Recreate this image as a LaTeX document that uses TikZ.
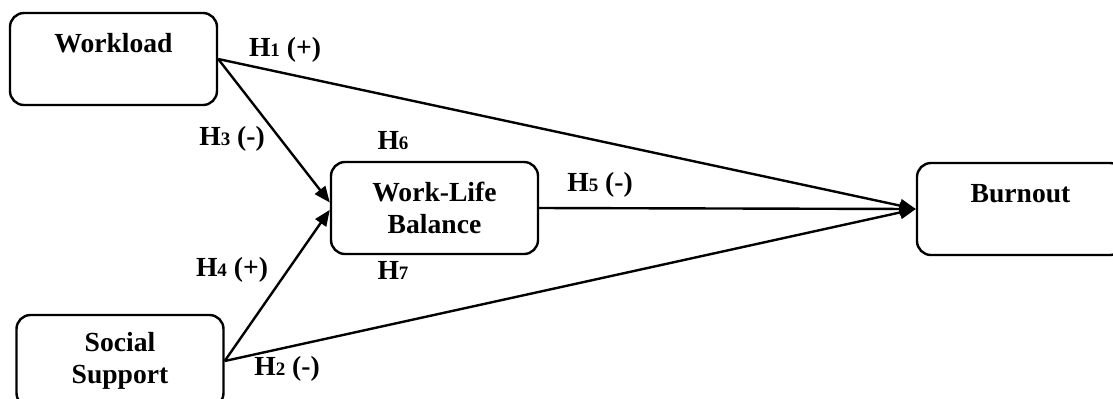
\documentclass[tikz,border=0pt]{standalone}
\usepackage{fontspec}
\setmainfont{Liberation Serif}
\usetikzlibrary{arrows.meta}
\newcommand{\hsub}[1]{{\fontsize{9.5}{10}\selectfont #1}}
\begin{document}
\begin{tikzpicture}[x=0.5pt, y=-0.5pt,
		box/.style={draw, line width=1.2pt, rounded corners=7pt, minimum width=103.5pt, minimum height=46pt, inner sep=0pt, align=center, font=\fontsize{13.8}{16}\selectfont\bfseries},
		hyp/.style={inner sep=1pt, font=\fontsize{13.8}{16}\selectfont\bfseries},
		link/.style={-{Triangle[length=8pt,width=6.5pt]}, line width=1.2pt}]
			\useasboundingbox (0,0) rectangle (1113,398);
			% constructs
			\node[box] (work) at (113.5,59) {Workload\\\mbox{}};
			\node[box] (wlb) at (434.5,208) {Work-Life\\Balance};
			\node[box] (social) at (120,361) {Social\\Support};
			\node[box] (burn) at (1020.5,209) {Burnout\\\mbox{}};
			% paths
			\draw[link] (work.east) -- (wlb.177);
			\draw[link] (social.east) -- (wlb.181);
			\draw[link] (work.east) -- (burn.west);
			\draw[link] (wlb.east) -- (burn.west);
			\draw[link] (social.east) -- (burn.west);
			% hypotheses
			\node[hyp] (h1) at (285,50) {H\hsub{1} (+)};
			\node[hyp] (h3) at (232,139) {H\hsub{3} (-)};
			\node[hyp] (h6) at (393,141) {H\hsub{6}};
			\node[hyp] (h5) at (600,185) {H\hsub{5} (-)};
			\node[hyp] (h4) at (232,270) {H\hsub{4} (+)};
			\node[hyp] (h7) at (393,270) {H\hsub{7}};
			\node[hyp] (h2) at (287,369) {H\hsub{2} (-)};
		\end{tikzpicture}
\end{document}
